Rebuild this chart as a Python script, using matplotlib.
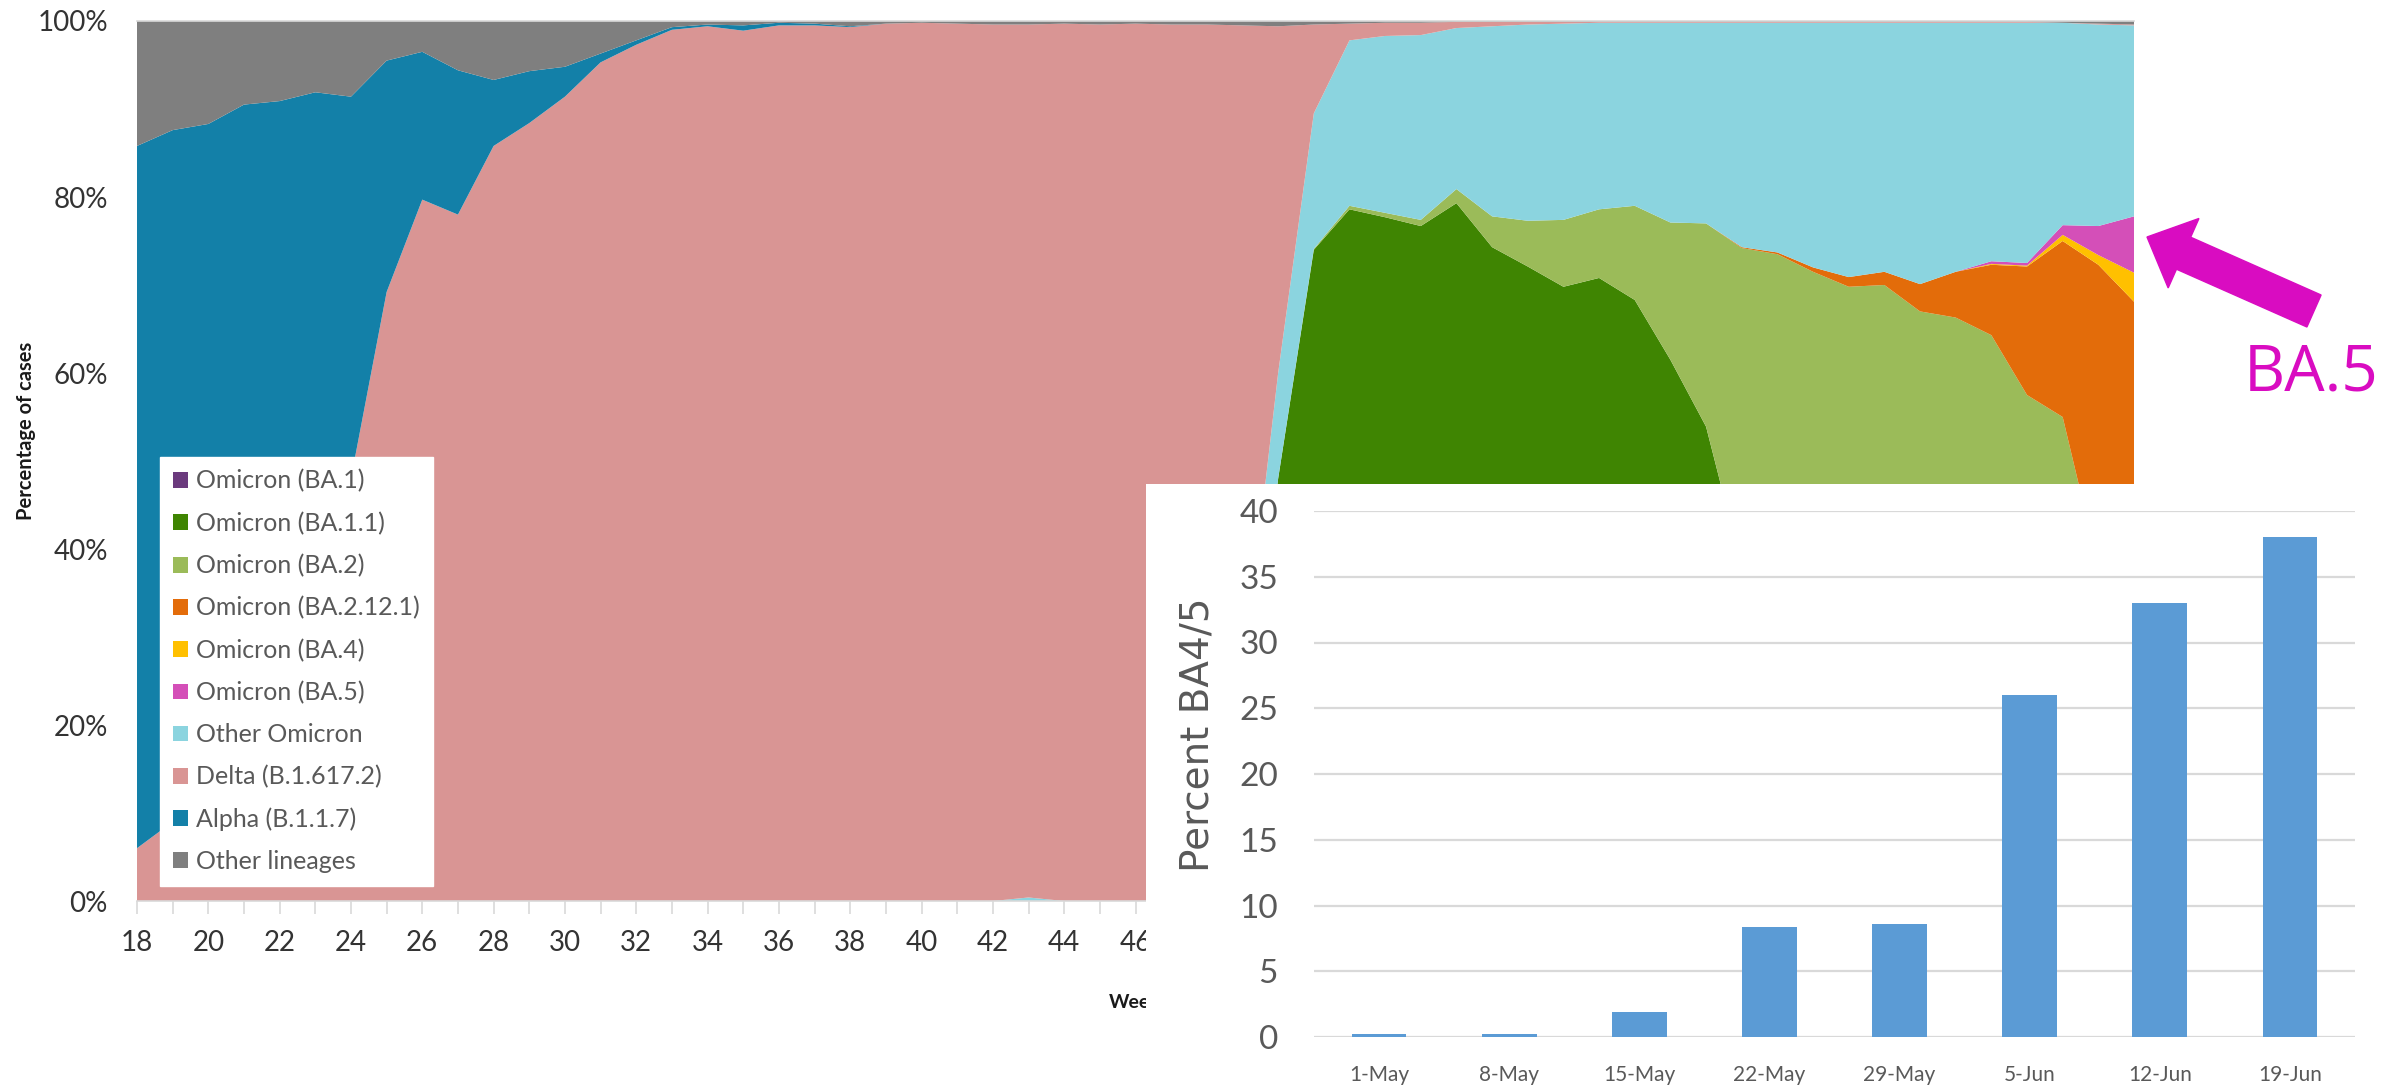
import numpy as np
import matplotlib.pyplot as plt
from matplotlib.patches import FancyArrow

plt.rcParams['font.family'] = ['Lato', 'DejaVu Sans']

# week numbers, 2021 wk18 .. 2022 wk22
week_labels = [18, 19, 20, 21, 22, 23, 24, 25, 26, 27, 28, 29, 30, 31, 32, 33, 34, 35,
               36, 37, 38, 39, 40, 41, 42, 43, 44, 45, 46, 47, 48, 49, 50, 51, 52,
               1, 2, 3, 4, 5, 6, 7, 8, 9, 10, 11, 12, 13, 14, 15, 16, 17, 18, 19, 20, 21, 22]

# percentage of cases per lineage, one value per week
ba1 = [0] * 30 + [0.1, 1.0, 1.5, 1.5, 1.0, 0.8, 0.6, 0.5, 0.4, 0.3, 0.2, 0.2, 0.1, 0.1] + [0] * 13
ba11 = [0] * 30 + [0.4, 14.0, 46.5, 72.5, 77.6, 76.9, 76.1, 78.8, 73.9, 71.8, 69.6, 70.6, 68.2,
                   61.4, 53.9, 38.0, 25.0, 16.0, 10.0, 6.0, 4.0, 3.0, 2.0, 1.5, 1.0, 0.7, 0.5]
ba2 = [0] * 30 + [0, 0, 0, 0.1, 0.4, 0.5, 0.7, 1.6, 3.5, 5.2, 7.6, 7.8, 10.7, 15.6, 23.1,
                  36.2, 48.5, 55.5, 59.8, 64.0, 63.0, 63.3, 62.3, 56.0, 54.0, 37.3, 25.5]
ba2121 = [0] * 45 + [0.1, 0.2, 0.5, 1.1, 1.5, 3.1, 5.2, 8.0, 14.6, 20.0, 34.3, 42.1]
ba4 = [0] * 52 + [0.1, 0.1, 0.7, 1.1, 3.3]
ba5 = [0] * 52 + [0.3, 0.3, 1.1, 3.3, 6.4]
other_omicron = [0] * 25 + [0.4] + [0] * 4 + [1.0, 10.0, 12.0, 15.4, 18.8, 20.1, 21.0, 18.3, 21.6,
                                              22.3, 22.3, 21.2, 20.8, 22.7, 22.8, 25.5, 26.1, 27.8,
                                              28.9, 28.3, 29.7, 28.3, 27.1, 27.3, 23.0, 22.9, 21.7]
delta = [6.0, 9.0, 13.0, 19.0, 27.0, 37.0, 48.0, 69.2, 79.7, 78.0, 85.8, 88.4, 91.4, 95.3, 97.3,
         99.0, 99.4, 98.9, 99.5, 99.5, 99.3, 99.7, 99.8, 99.7, 99.6, 99.2, 99.7, 99.6, 99.7, 99.6,
         98.1, 74.5, 39.4, 10.1, 1.9, 1.5, 1.4, 0.7, 0.5, 0.3, 0.2, 0.1] + [0.1] * 12 + [0.0, 0.1, 0.1]
alpha = [79.8, 78.6, 75.3, 71.5, 63.9, 54.9, 43.4, 26.3, 16.8, 16.4, 7.5, 5.9, 3.4, 1.0, 0.5,
         0.3, 0.2, 0.6, 0.3, 0.2, 0.1] + [0] * 36
other = [14.2, 12.4, 11.7, 9.5, 9.1, 8.1, 8.6, 4.5, 3.5, 5.6, 6.7, 5.7, 5.2, 3.7, 2.2, 0.7, 0.4,
         0.5, 0.2, 0.3, 0.6, 0.3, 0.2, 0.3, 0.4, 0.4, 0.3, 0.4, 0.3, 0.4,
         0.4, 0.5, 0.6, 0.4, 0.3, 0.2, 0.2] + [0.1] * 17 + [0.2, 0.3, 0.4]

lineages = ["Omicron (BA.1)", "Omicron (BA.1.1)", "Omicron (BA.2)", "Omicron (BA.2.12.1)",
            "Omicron (BA.4)", "Omicron (BA.5)", "Other Omicron", "Delta (B.1.617.2)",
            "Alpha (B.1.1.7)", "Other lineages"]
colors = ["#6B3A7D", "#3F8502", "#9BBB59", "#E36C0A", "#FFC000", "#D44FB8",
          "#8BD4DF", "#D99594", "#1380A8", "#7F7F7F"]

# inset: weekly percent BA.4/5
bar_dates = ["1-May", "8-May", "15-May", "22-May", "29-May", "5-Jun", "12-Jun", "19-Jun"]
bar_pct = [0.2, 0.25, 1.9, 8.4, 8.6, 26.0, 33.0, 38.0]

W, H = 2391, 1085
fig = plt.figure(figsize=(W / 100, H / 100), dpi=100)

# main stacked area chart
ax = fig.add_axes([137 / W, 1 - 901 / H, 1997 / W, 880 / H])
x = np.arange(len(week_labels))
ax.stackplot(x, ba1, ba11, ba2, ba2121, ba4, ba5, other_omicron, delta, alpha, other,
             colors=colors, labels=lineages, linewidth=0)
ax.set_xlim(x[0], x[-1])
ax.set_ylim(0, 100)
ax.set_yticks([0, 20, 40, 60, 80, 100])
ax.set_yticklabels(["0%", "20%", "40%", "60%", "80%", "100%"])
ax.set_xticks(x[::2])
ax.set_xticklabels(week_labels[::2])
ax.set_xticks(x, minor=True)
ax.tick_params(axis='y', length=0, pad=21, labelsize=20, labelcolor='#333333')
ax.tick_params(axis='x', which='both', length=9, width=1.2, color='#D9D9D9', direction='out')
ax.tick_params(axis='x', which='major', labelsize=20, pad=12, labelcolor='#333333')
for side in ['left', 'right']:
    ax.spines[side].set_visible(False)
for side in ['top', 'bottom']:
    ax.spines[side].set_color('#D9D9D9')
    ax.spines[side].set_linewidth(1.2)

ax.text(26 / W, 1 - 431 / H, "Percentage of cases", transform=fig.transFigure, rotation=90,
        ha='center', va='center', fontsize=14.5, fontweight='bold', color='#1a1a1a')
ax.text(1135 / W, 1 - 1002 / H, "Week", transform=fig.transFigure,
        ha='center', va='center', fontsize=14, fontweight='bold', color='#1a1a1a')

leg = ax.legend(loc='upper left', bbox_to_anchor=(160 / W, 1 - 457 / H),
                bbox_transform=fig.transFigure, fontsize=18, frameon=True, fancybox=False,
                edgecolor='white', framealpha=1, handlelength=0.6, handleheight=0.6,
                handletextpad=0.35, labelspacing=0.76, borderpad=0.5, borderaxespad=0,
                labelcolor='#595959')

# white panel behind the inset
bg = fig.add_axes([1146 / W, 0, (W - 1146) / W, 601 / H])
bg.set_facecolor('white')
bg.set_xticks([])
bg.set_yticks([])
for s in bg.spines.values():
    s.set_visible(False)

bax = fig.add_axes([1314 / W, 1 - 1037 / H, 1041 / W, 526 / H])
bax.patch.set_alpha(0)
bax.bar(np.arange(len(bar_dates)), bar_pct, width=0.42, color='#5B9BD5', zorder=2)
bax.set_xlim(-0.5, len(bar_dates) - 0.5)
bax.set_ylim(0, 40)
bax.set_yticks(range(0, 41, 5))
bax.set_xticks(np.arange(len(bar_dates)))
bax.set_xticklabels(bar_dates)
bax.grid(axis='y', color='#D9D9D9', linewidth=1.6, zorder=0)
bax.set_axisbelow(True)
for s in bax.spines.values():
    s.set_visible(False)
bax.tick_params(axis='y', length=0, pad=26, labelsize=24, labelcolor='#595959')
bax.tick_params(axis='x', length=0, pad=20, labelsize=15, labelcolor='#595959')
bax.text(1198 / W, 1 - 735 / H, "Percent BA4/5", transform=fig.transFigure, rotation=90,
         ha='center', va='center', fontsize=28, family='DejaVu Sans', color='#595959')

# arrow pointing at BA.5
arrow = FancyArrow(23.14, 7.74, -1.67, 0.74, width=0.35, head_width=0.76, head_length=0.40,
                   length_includes_head=True, color='#D90CC1', transform=fig.dpi_scale_trans)
fig.add_artist(arrow)
fig.text(2311 / W, 1 - 374 / H, "BA.5", ha='center', va='center', fontsize=46,
         color='#D90CC1', family=['Open Sans', 'DejaVu Sans'])

fig.savefig('out.png', dpi=100)
